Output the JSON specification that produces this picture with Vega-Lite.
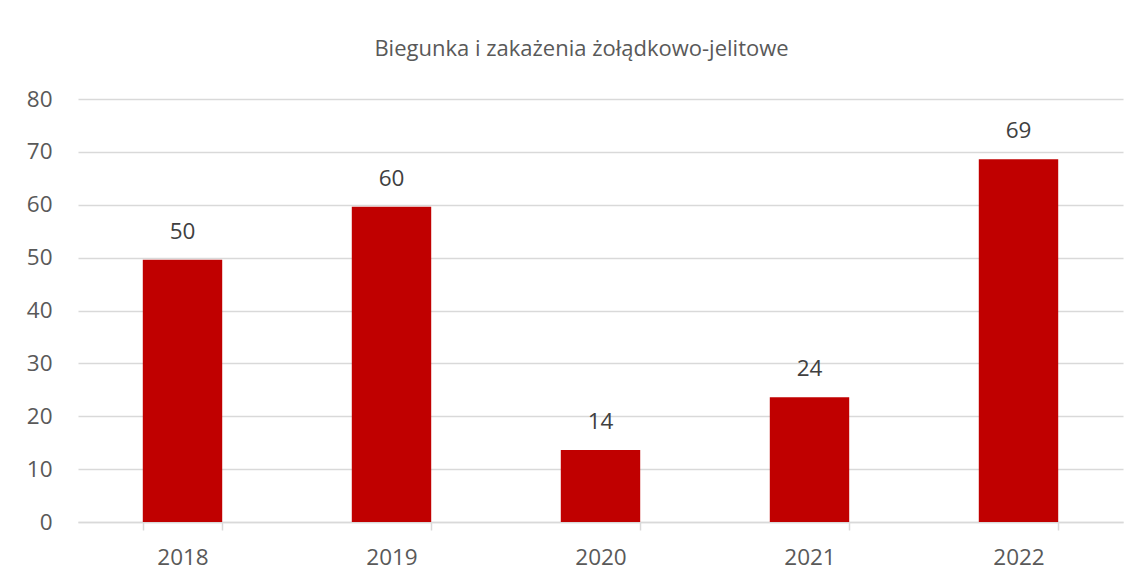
{
  "$schema": "https://vega.github.io/schema/vega-lite/v6.json",
  "autosize": {"type": "none"},
  "width": 1045,
  "height": 423,
  "padding": {"left": 78, "top": 99, "right": 17, "bottom": 58},
  "background": "white",
  "title": {
    "text": "Biegunka i zakażenia żołądkowo-jelitowe",
    "font": "Open Sans",
    "fontSize": 22,
    "fontWeight": "normal",
    "color": "#595959",
    "anchor": "middle",
    "frame": "group",
    "baseline": "alphabetic",
    "offset": 10,
    "dx": -19
  },
  "data": {
    "values": [
      {"rok": "2018", "liczba": 49.6},
      {"rok": "2019", "liczba": 59.6},
      {"rok": "2020", "liczba": 13.6},
      {"rok": "2021", "liczba": 23.6},
      {"rok": "2022", "liczba": 68.6}
    ]
  },
  "encoding": {
    "x": {
      "field": "rok",
      "type": "nominal",
      "sort": null,
      "scale": {"paddingInner": 0.62, "paddingOuter": 0.31},
      "axis": {
        "title": null,
        "labelAngle": 0,
        "labelFont": "Open Sans",
        "labelFontSize": 22.5,
        "labelColor": "#595959",
        "labelPadding": 16,
        "domainColor": "#d9d9d9",
        "domainWidth": 1.5,
        "tickColor": "#d9d9d9",
        "tickWidth": 1.5,
        "tickSize": 8,
        "tickBand": "extent",
        "grid": false
      }
    },
    "y": {
      "field": "liczba",
      "type": "quantitative",
      "scale": {"domain": [0, 80], "nice": false},
      "axis": {
        "title": null,
        "values": [0, 10, 20, 30, 40, 50, 60, 70, 80],
        "labelFont": "Open Sans",
        "labelFontSize": 22.5,
        "labelColor": "#595959",
        "labelPadding": 26,
        "domain": false,
        "ticks": false,
        "grid": true,
        "gridColor": "#d9d9d9",
        "gridWidth": 1.5
      }
    }
  },
  "layer": [
    {
      "mark": {"type": "bar", "color": "#c00000"}
    },
    {
      "mark": {
        "type": "text",
        "font": "Open Sans",
        "fontSize": 22.5,
        "color": "#404040",
        "baseline": "alphabetic",
        "dy": -21
      },
      "encoding": {
        "text": {"field": "liczba", "type": "quantitative", "format": ".0f"}
      }
    }
  ],
  "config": {
    "view": {"stroke": null}
  }
}
